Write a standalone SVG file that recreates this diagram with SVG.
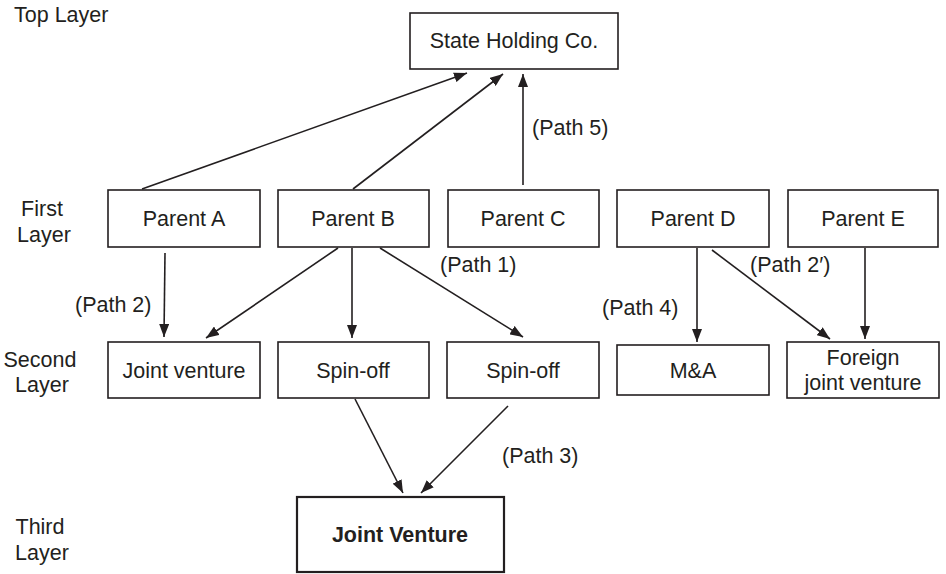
<svg xmlns="http://www.w3.org/2000/svg" width="946" height="574" viewBox="0 0 946 574">
  <style>
    .box { fill: #ffffff; stroke: #231f20; stroke-width: 1.6; }
    .box-main { fill: #ffffff; stroke: #231f20; stroke-width: 2.2; }
    text { font-family: "Liberation Sans", Arial, Helvetica, sans-serif; font-size: 21.5px; fill: #231f20; }
    .c { text-anchor: middle; }
    .b { font-weight: bold; }
    .link { stroke: #231f20; stroke-width: 1.6; fill: none; marker-end: url(#head); }
  </style>
  <defs>
    <marker id="head" viewBox="0 0 13 10" refX="13" refY="5" markerWidth="13" markerHeight="10" markerUnits="userSpaceOnUse" orient="auto">
      <path d="M0,0 L13,5 L0,10 Z" fill="#231f20"/>
    </marker>
  </defs>

  <!-- layer captions -->
  <g id="layer-labels">
    <text x="14" y="22">Top Layer</text>
    <text class="c" x="42" y="216">First</text>
    <text class="c" x="44" y="242">Layer</text>
    <text class="c" x="40" y="367">Second</text>
    <text class="c" x="42" y="392">Layer</text>
    <text class="c" x="40" y="534">Third</text>
    <text class="c" x="42" y="560">Layer</text>
  </g>

  <!-- top layer -->
  <g id="state-holding">
    <rect class="box" x="410" y="13" width="208" height="56"/>
    <text class="c" x="514" y="48">State Holding Co.</text>
  </g>

  <!-- first layer -->
  <g id="parent-a">
    <rect class="box" x="108" y="190" width="152" height="57"/>
    <text class="c" x="184" y="226">Parent A</text>
  </g>
  <g id="parent-b">
    <rect class="box" x="278" y="190" width="151" height="57"/>
    <text class="c" x="353" y="226">Parent B</text>
  </g>
  <g id="parent-c">
    <rect class="box" x="448" y="190" width="151" height="57"/>
    <text class="c" x="523" y="226">Parent C</text>
  </g>
  <g id="parent-d">
    <rect class="box" x="617" y="190" width="152" height="57"/>
    <text class="c" x="693" y="226">Parent D</text>
  </g>
  <g id="parent-e">
    <rect class="box" x="788" y="190" width="150" height="57"/>
    <text class="c" x="863" y="226">Parent E</text>
  </g>

  <!-- second layer -->
  <g id="joint-venture">
    <rect class="box" x="108" y="342" width="152" height="56"/>
    <text class="c" x="184" y="378">Joint venture</text>
  </g>
  <g id="spin-off-1">
    <rect class="box" x="278" y="342" width="151" height="56"/>
    <text class="c" x="353" y="378">Spin-off</text>
  </g>
  <g id="spin-off-2">
    <rect class="box" x="447" y="342" width="152" height="56"/>
    <text class="c" x="523" y="378">Spin-off</text>
  </g>
  <g id="m-and-a">
    <rect class="box" x="617" y="345" width="152" height="50"/>
    <text class="c" x="693" y="378">M&amp;A</text>
  </g>
  <g id="foreign-jv">
    <rect class="box" x="787" y="342" width="152" height="56"/>
    <text class="c" x="863" y="365">Foreign</text>
    <text class="c" x="863" y="390">joint venture</text>
  </g>

  <!-- third layer -->
  <g id="final-jv">
    <rect class="box-main" x="297" y="497" width="207" height="75"/>
    <text class="c b" x="400" y="542">Joint Venture</text>
  </g>

  <!-- connectors -->
  <g id="connectors">
    <line class="link" x1="142" y1="189" x2="467" y2="73"/>
    <line class="link" x1="353" y1="189" x2="503" y2="74"/>
    <line class="link" x1="523" y1="185" x2="523" y2="74"/>
    <line class="link" x1="165" y1="253" x2="164" y2="337"/>
    <line class="link" x1="338" y1="248" x2="206" y2="338"/>
    <line class="link" x1="352" y1="248" x2="352" y2="338"/>
    <line class="link" x1="380" y1="248" x2="523" y2="337"/>
    <line class="link" x1="697" y1="248" x2="697" y2="342"/>
    <line class="link" x1="712" y1="250" x2="830" y2="339"/>
    <line class="link" x1="865" y1="248" x2="865" y2="339"/>
    <line class="link" x1="355" y1="399" x2="403" y2="493"/>
    <line class="link" x1="508" y1="406" x2="421" y2="493"/>
  </g>

  <!-- path labels -->
  <g id="path-labels">
    <text x="532" y="135">(Path 5)</text>
    <text x="440" y="272">(Path 1)</text>
    <text x="75" y="312">(Path 2)</text>
    <text x="750" y="272">(Path 2′)</text>
    <text x="602" y="315">(Path 4)</text>
    <text x="502" y="463">(Path 3)</text>
  </g>
</svg>
